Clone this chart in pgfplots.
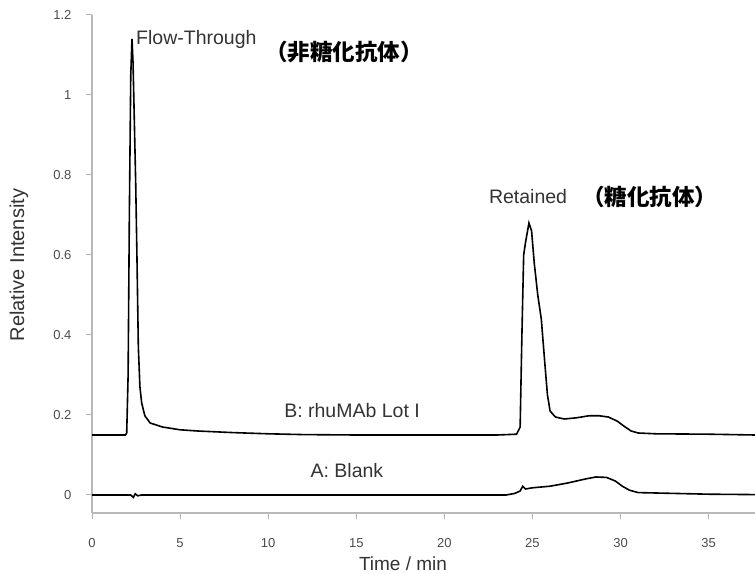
\documentclass[border=0pt]{standalone}
\usepackage{pgfplots}
\pgfplotsset{compat=1.18}
\usepackage{fontspec}
\setmainfont{Liberation Sans}
\newfontfamily\cjk{Noto Sans CJK JP}
\begin{document}
\begin{tikzpicture}[x=1pt,y=1pt]
\path[use as bounding box] (0,0) rectangle (755,573);
\begin{axis}[
  at={(92pt,60pt)}, anchor=south west,
  scale only axis, width=663pt, height=498pt,
  xmin=0, xmax=37.63, ymin=-0.045, ymax=1.2,
  axis lines=left,
  axis line style={-, draw=black!28, line width=1.2pt},
  xtick={0,5,10,15,20,25,30,35},
  ytick={0,0.2,0.4,0.6,0.8,1,1.2},
  yticklabels={0,0.2,0.4,0.6,0.8,1,1.2},
  tick align=outside, major tick length=6pt,
  tick style={draw=black!30, line width=1pt},
  ticklabel style={font=\fontsize{13}{15}\selectfont, text=black!70},
  /pgf/number format/assume math mode=true,
  xticklabel shift=16pt,
  yticklabel shift=11pt,
  clip=false,
]
\addplot[black, line width=1.6pt] coordinates {
(0,0.150) (1.9,0.150) (1.97,0.155) (2.05,0.30) (2.12,0.70) (2.2,1.05) (2.27,1.14)
(2.33,1.08) (2.4,0.94) (2.48,0.78) (2.55,0.60) (2.63,0.37) (2.72,0.27) (2.82,0.23)
(3.0,0.198) (3.3,0.180) (4,0.170) (5,0.163) (6,0.160) (8,0.156) (10,0.153) (12,0.151)
(15,0.150) (20,0.150) (23,0.150) (24.1,0.152) (24.3,0.17) (24.4,0.40) (24.5,0.60)
(24.6,0.63) (24.8,0.68) (24.95,0.66) (25.1,0.58) (25.3,0.50) (25.5,0.44) (25.7,0.33)
(25.85,0.25) (26.0,0.21) (26.3,0.195) (26.8,0.19) (27.5,0.193) (28.2,0.198) (28.8,0.198)
(29.3,0.195) (29.8,0.185) (30.2,0.172) (30.6,0.160) (31.0,0.155) (32,0.153) (35,0.152) (37.63,0.150)
};
\addplot[black, line width=1.6pt] coordinates {
(0,0) (2.2,0) (2.35,-0.006) (2.45,0.003) (2.6,-0.002) (2.8,0) (23.5,0) (24.0,0.004)
(24.3,0.010) (24.45,0.022) (24.6,0.015) (25.0,0.018) (26,0.022) (27,0.030) (28,0.040)
(28.6,0.045) (29.2,0.044) (29.7,0.035) (30.1,0.022) (30.5,0.012) (31,0.006) (33,0.004)
(35,0.002) (37.63,0.001)
};
\node[anchor=west, font=\fontsize{19.5}{22}\selectfont, text=black!80, inner sep=0pt] at (axis cs:2.5,1.14) {Flow-Through};
\node[font=\cjk\bfseries\fontsize{22.5}{24}\selectfont, inner sep=0pt] at (axis cs:14.3,1.1075) {（非糖化抗体）};
\node[font=\fontsize{19.5}{22}\selectfont, text=black!80, inner sep=0pt] at (axis cs:24.75,0.745) {Retained};
\node[font=\cjk\bfseries\fontsize{22.5}{24}\selectfont, inner sep=0pt] at (axis cs:31.67,0.745) {（糖化抗体）};
\node[font=\fontsize{19.5}{22}\selectfont, text=black!80, inner sep=0pt] at (axis cs:14.76,0.21) {B: rhuMAb Lot I};
\node[font=\fontsize{19.5}{22}\selectfont, text=black!80, inner sep=0pt] at (axis cs:14.47,0.06) {A: Blank};
\end{axis}
\node[font=\fontsize{19}{21}\selectfont, text=black!80, inner sep=0pt] at (403,9.5) {Time / min};
\node[rotate=90, font=\fontsize{20}{22}\selectfont, text=black!80, inner sep=0pt] at (19,308) {Relative Intensity};
\end{tikzpicture}
\end{document}
